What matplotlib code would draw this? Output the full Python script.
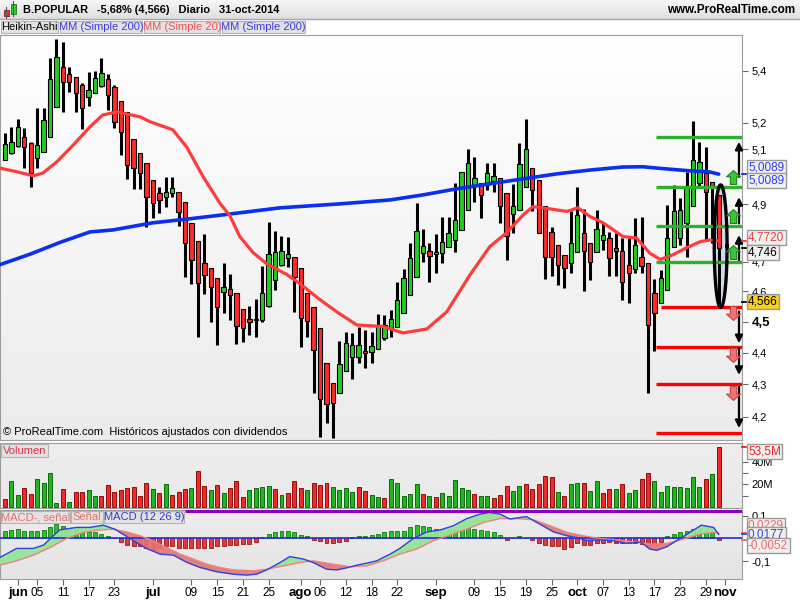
import numpy as np
import pandas as pd
import matplotlib
matplotlib.use("Agg")
import matplotlib.pyplot as plt
from matplotlib.path import Path
from matplotlib.patches import Rectangle
from matplotlib.colors import LinearSegmentedColormap
from matplotlib.ticker import FixedLocator, FixedFormatter, NullLocator, NullFormatter
from matplotlib.transforms import blended_transform_factory

plt.rcParams['font.family'] = ['Liberation Sans', 'DejaVu Sans']

# =========================
# DATA
# =========================
dates = pd.bdate_range("2014-05-29", "2014-10-31")   # 112 sessions

ha_open = [5.061, 5.087, 5.113, 5.146, 5.124, 5.068, 5.091, 5.146, 5.259, 5.414,
           5.387, 5.375, 5.344, 5.298, 5.314, 5.340, 5.368, 5.337, 5.283, 5.240,
           5.139, 5.087, 5.050, 4.988, 4.941, 4.927, 4.941, 4.945, 4.909, 4.835,
           4.772, 4.696, 4.679, 4.645, 4.598, 4.608, 4.595, 4.542, 4.509, 4.504,
           4.506, 4.552, 4.639, 4.689, 4.713, 4.716, 4.679, 4.595, 4.549, 4.480,
           4.367, 4.303, 4.273, 4.342, 4.386, 4.386, 4.404, 4.402, 4.411, 4.447,
           4.479, 4.484, 4.528, 4.588, 4.648, 4.729, 4.738, 4.727, 4.729, 4.750,
           4.775, 4.810, 4.881, 4.966, 4.978, 4.970, 4.984, 4.994, 4.942, 4.866,
           4.881, 4.962, 5.030, 4.988, 4.893, 4.804, 4.758, 4.724, 4.697, 4.735,
           4.798, 4.766, 4.735, 4.775, 4.781, 4.747, 4.738, 4.689, 4.674, 4.716,
           4.697, 4.596, 4.561, 4.605, 4.752, 4.782, 4.833, 4.893, 4.976, 5.012,
           4.982, 4.934]
ha_close = [5.120, 5.128, 5.184, 5.109, 5.013, 5.116, 5.210, 5.368, 5.455, 5.356,
            5.356, 5.314, 5.255, 5.325, 5.371, 5.391, 5.306, 5.203, 5.165, 5.043,
            5.031, 5.013, 4.927, 4.906, 4.916, 4.945, 4.959, 4.874, 4.764, 4.706,
            4.628, 4.655, 4.615, 4.549, 4.615, 4.588, 4.486, 4.480, 4.499, 4.509,
            4.595, 4.727, 4.734, 4.737, 4.727, 4.649, 4.513, 4.503, 4.409, 4.254,
            4.239, 4.242, 4.364, 4.431, 4.425, 4.425, 4.398, 4.422, 4.486, 4.489,
            4.509, 4.572, 4.645, 4.712, 4.808, 4.754, 4.720, 4.731, 4.769, 4.798,
            4.845, 5.018, 5.049, 4.994, 4.934, 5.012, 5.002, 4.893, 4.789, 4.893,
            5.045, 5.100, 4.950, 4.800, 4.718, 4.716, 4.689, 4.678, 4.766, 4.863,
            4.738, 4.700, 4.812, 4.792, 4.712, 4.738, 4.633, 4.661, 4.758, 4.684,
            4.489, 4.529, 4.645, 4.781, 4.875, 4.881, 4.964, 5.061, 5.055, 4.946,
            4.964, 4.746]
ha_high = [5.162, 5.184, 5.215, 5.180, 5.128, 5.255, 5.255, 5.450, 5.526, 5.514,
           5.414, 5.375, 5.352, 5.395, 5.399, 5.450, 5.387, 5.344, 5.283, 5.240,
           5.139, 5.087, 5.050, 4.988, 4.963, 4.999, 4.999, 4.945, 4.909, 4.835,
           4.772, 4.796, 4.679, 4.645, 4.696, 4.659, 4.595, 4.542, 4.552, 4.575,
           4.686, 4.838, 4.806, 4.789, 4.785, 4.716, 4.679, 4.595, 4.549, 4.480,
           4.367, 4.303, 4.438, 4.467, 4.464, 4.483, 4.473, 4.467, 4.526, 4.522,
           4.539, 4.633, 4.674, 4.766, 4.905, 4.812, 4.763, 4.796, 4.855, 4.855,
           4.976, 5.018, 5.100, 5.071, 4.978, 5.049, 5.049, 4.994, 4.942, 4.974,
           5.123, 5.213, 5.030, 4.988, 4.893, 4.819, 4.758, 4.724, 4.875, 4.962,
           4.883, 4.766, 4.881, 4.833, 4.804, 4.798, 4.781, 4.781, 4.851, 4.855,
           4.697, 4.641, 4.672, 4.898, 4.970, 4.923, 5.018, 5.207, 5.129, 5.110,
           4.982, 4.934]
ha_low = [5.061, 5.083, 5.109, 5.031, 4.963, 5.031, 5.091, 5.146, 5.259, 5.240,
          5.318, 5.240, 5.177, 5.263, 5.314, 5.337, 5.248, 5.180, 5.080, 4.992,
          4.956, 4.956, 4.820, 4.852, 4.870, 4.892, 4.927, 4.824, 4.649, 4.625,
          4.451, 4.592, 4.499, 4.425, 4.529, 4.506, 4.428, 4.435, 4.457, 4.451,
          4.499, 4.549, 4.605, 4.686, 4.682, 4.533, 4.419, 4.451, 4.273, 4.138,
          4.181, 4.135, 4.273, 4.342, 4.316, 4.367, 4.352, 4.368, 4.411, 4.441,
          4.451, 4.484, 4.528, 4.588, 4.648, 4.700, 4.633, 4.661, 4.695, 4.750,
          4.735, 4.810, 4.881, 4.907, 4.851, 4.952, 4.946, 4.835, 4.706, 4.798,
          4.881, 4.962, 4.875, 4.800, 4.641, 4.650, 4.622, 4.611, 4.663, 4.735,
          4.600, 4.639, 4.735, 4.741, 4.650, 4.650, 4.572, 4.561, 4.661, 4.661,
          4.273, 4.404, 4.561, 4.605, 4.752, 4.758, 4.717, 4.893, 4.964, 4.775,
          4.763, 4.549]
last_close = 4.566

# moving averages (index, value)
ma20_idx = [-0.8, 1.8, 4.4, 5.9, 8.1, 10.6, 13.2, 15.2, 17.4, 21.0, 22.6, 26.1, 28.3, 30.8,
            33.4, 35.0, 36.5, 38.6, 40.7, 43.8, 45.9, 49.0, 51.6, 54.7, 58.8, 61.9, 65.6,
            68.7, 72.3, 75.4, 78.0, 80.6, 82.1, 84.8, 87.4, 89.1, 91.0, 93.0, 96.1, 98.2,
            100.3, 101.9, 103.9, 106.0, 108.1, 109.6, 111.0]
ma20_val = [5.031, 5.018, 5.003, 5.013, 5.055, 5.116, 5.184, 5.229, 5.241, 5.222, 5.203,
            5.173, 5.107, 5.000, 4.905, 4.859, 4.787, 4.731, 4.693, 4.657, 4.625, 4.572,
            4.532, 4.489, 4.484, 4.463, 4.476, 4.532, 4.655, 4.752, 4.800, 4.863, 4.892,
            4.884, 4.875, 4.888, 4.857, 4.835, 4.787, 4.782, 4.729, 4.708, 4.724, 4.748,
            4.769, 4.775, 4.772]
ma200_idx = [-0.8, 3.9, 8.6, 13.2, 16.8, 23.0, 28.3, 35.0, 42.8, 52.1, 59.9, 65.0, 70.3,
             75.4, 80.6, 85.8, 91.0, 96.1, 99.2, 101.9, 106.0, 109.6, 111.0]
ma200_val = [4.690, 4.726, 4.767, 4.803, 4.810, 4.835, 4.848, 4.866, 4.888, 4.902, 4.916,
             4.934, 4.956, 4.974, 4.992, 5.010, 5.024, 5.035, 5.036, 5.030, 5.022, 5.017,
             5.009]
ma20_last = 4.772
ma200_last = 5.0089

# drawn objects: levels, arrows, ellipse
green_levels = [5.147, 4.964, 4.825, 4.700]
red_levels = [4.549, 4.419, 4.301, 4.151]
level_start = [101.2, 101.2, 101.2, 101.2]
red_start = [102.1, 101.2, 101.2, 101.2]
up_moves = [(4.999, 5.128), (4.833, 4.926), (4.706, 4.792)]
down_moves = [(4.533, 4.430), (4.413, 4.329), (4.292, 4.165)]
green_marks = [4.999, 4.859, 4.735]
red_marks = [4.529, 4.393, 4.273]
ellipse_idx, ellipse_top, ellipse_bottom = 111.3, 4.97, 4.546

# volume in millions, 1 = green bar
volume_m = [7.1, 23.3, 10.9, 16.8, 11.5, 24.8, 21.2, 30.1, 3.5, 15.9,
            4.7, 13.6, 13.6, 15.0, 9.7, 9.7, 19.8, 13.6, 15.0, 16.8,
            18.0, 9.7, 21.2, 15.9, 12.7, 20.4, 10.9, 13.6, 15.9, 16.8,
            32.2, 18.9, 15.0, 19.8, 12.4, 16.8, 23.3, 9.1, 15.0, 16.8,
            18.0, 18.9, 15.9, 10.9, 12.7, 23.3, 16.8, 15.0, 20.9, 19.8,
            21.2, 18.0, 15.0, 16.8, 13.6, 18.0, 14.5, 10.9, 9.1, 8.0,
            24.8, 20.9, 9.7, 11.5, 20.4, 11.5, 9.7, 8.6, 12.4, 9.7,
            23.9, 16.8, 15.0, 11.5, 9.7, 9.7, 8.0, 10.9, 18.6, 14.2,
            18.6, 20.4, 15.9, 20.4, 27.7, 26.5, 13.3, 9.7, 20.4, 21.2,
            21.2, 14.2, 23.0, 12.4, 15.9, 15.9, 20.4, 12.4, 15.0, 24.8,
            30.1, 23.0, 13.3, 18.6, 17.7, 17.7, 16.8, 26.5, 17.7, 24.8,
            29.2, 53.5]
volume_up = [0, 1, 1, 0, 0, 1, 1, 1, 1, 0,
             1, 0, 0, 1, 1, 0, 0, 0, 0, 0,
             0, 0, 0, 1, 0, 1, 0, 0, 0, 1,
             0, 0, 1, 0, 1, 0, 0, 0, 1, 1,
             1, 1, 0, 1, 0, 0, 0, 1, 0, 0,
             0, 1, 1, 1, 1, 0, 0, 1, 1, 0,
             1, 1, 1, 1, 1, 0, 1, 0, 1, 1,
             1, 1, 1, 0, 1, 1, 0, 0, 0, 1,
             1, 0, 0, 0, 0, 0, 1, 0, 1, 1,
             0, 1, 1, 0, 0, 1, 0, 1, 1, 0,
             0, 1, 1, 1, 1, 1, 1, 1, 1, 0,
             1, 0]

# MACD (12 26 9)
macd_hist = [0.034, 0.038, 0.044, 0.034, 0.031, 0.034, 0.038, 0.049, 0.062, 0.056,
             0.046, 0.041, 0.031, 0.028, 0.027, 0.019, 0.010, 0.003, -0.015, -0.028,
             -0.035, -0.035, -0.044, -0.050, -0.043, -0.035, -0.032, -0.040, -0.044, -0.044,
             -0.044, -0.041, -0.041, -0.032, -0.032, -0.027, -0.027, -0.024, -0.024, -0.015,
             0.007, 0.018, 0.027, 0.031, 0.034, 0.027, 0.016, 0.012, -0.006, -0.013,
             -0.022, -0.019, -0.015, -0.010, 0.006, 0.009, 0.009, 0.016, 0.022, 0.028,
             0.034, 0.034, 0.034, 0.052, 0.059, 0.056, 0.053, 0.044, 0.041, 0.038,
             0.038, 0.044, 0.046, 0.041, 0.037, 0.034, 0.027, 0.015, -0.006, 0.001,
             0.009, 0.004, -0.006, -0.018, -0.029, -0.032, -0.035, -0.047, -0.037, -0.022,
             -0.029, -0.029, -0.018, -0.018, -0.015, -0.018, -0.021, -0.021, -0.018, -0.025,
             -0.032, -0.025, -0.015, 0.012, 0.019, 0.027, 0.034, 0.041, 0.044, 0.031,
             0.027, -0.0052]
macd_idx = [-0.8, 1.8, 4.4, 6.0, 7.5, 8.5, 11.1, 13.2, 15.3, 17.1, 20.0, 22.0, 24.1, 26.2,
            28.3, 30.3, 32.9, 35.5, 37.6, 39.1, 40.7, 42.8, 44.3, 46.4, 47.9, 50.0, 51.6,
            53.4, 54.7, 56.3, 57.8, 59.9, 61.4, 63.5, 65.6, 67.7, 69.7, 71.8, 73.9, 75.4,
            77.0, 78.5, 80.1, 81.1, 83.2, 85.3, 87.4, 88.9, 90.5, 92.5, 94.6, 96.7, 98.8,
            100.3, 101.4, 102.9, 105.0, 106.5, 108.3, 110.2, 111.0]
macd_val = [-0.084, -0.044, -0.044, -0.029, 0.012, 0.038, 0.049, 0.049, 0.059, 0.041,
            -0.010, -0.044, -0.069, -0.074, -0.106, -0.128, -0.147, -0.158, -0.162, -0.158,
            -0.139, -0.106, -0.080, -0.091, -0.106, -0.136, -0.139, -0.128, -0.118, -0.109,
            -0.099, -0.069, -0.044, 0.000, 0.029, 0.038, 0.056, 0.088, 0.108, 0.115,
            0.108, 0.086, 0.093, 0.097, 0.063, 0.029, 0.012, 0.004, -0.010, -0.006,
            -0.010, -0.022, -0.015, -0.047, -0.052, -0.037, 0.000, 0.027, 0.059, 0.049,
            0.0177]
signal_idx = [-0.8, 1.8, 4.4, 7.0, 9.6, 12.2, 14.8, 16.8, 18.9, 21.0, 23.0, 25.1, 27.2,
              29.3, 31.4, 33.4, 35.5, 38.6, 40.7, 43.3, 45.9, 47.9, 51.1, 53.7, 56.3, 58.8,
              61.4, 64.0, 66.6, 69.2, 71.8, 74.4, 77.0, 79.6, 82.2, 84.8, 87.4, 89.9, 92.5,
              95.1, 97.7, 100.3, 102.9, 105.5, 108.0, 110.2, 111.0]
signal_val = [-0.118, -0.099, -0.074, -0.040, 0.000, 0.027, 0.038, 0.041, 0.029, 0.012,
              -0.010, -0.040, -0.069, -0.091, -0.114, -0.128, -0.139, -0.143, -0.136, -0.121,
              -0.106, -0.099, -0.114, -0.125, -0.121, -0.099, -0.069, -0.047, -0.010, 0.015,
              0.041, 0.071, 0.088, 0.088, 0.083, 0.056, 0.027, 0.012, 0.000, -0.006,
              -0.015, -0.025, -0.022, -0.003, 0.019, 0.027, 0.0229]
macd_top_level = 0.123

# axis ticks
price_ticks = [4.2, 4.3, 4.4, 4.5, 4.6, 4.7, 4.9, 5.1, 5.2, 5.4]
tick_dates = ['2014-06-02', '2014-06-05', '2014-06-11', '2014-06-17', '2014-06-23',
              '2014-07-01', '2014-07-09', '2014-07-15', '2014-07-21', '2014-07-25',
              '2014-08-01', '2014-08-06', '2014-08-12', '2014-08-18', '2014-08-22',
              '2014-09-01', '2014-09-09', '2014-09-15', '2014-09-19', '2014-09-25',
              '2014-10-01', '2014-10-07', '2014-10-13', '2014-10-17', '2014-10-23',
              '2014-10-29', '2014-11-03']
tick_labels = ['jun', '05', '11', '17', '23', 'jul', '09', '15', '21', '25', 'ago', '06',
               '12', '18', '22', 'sep', '09', '15', '19', '25', 'oct', '07', '13', '17',
               '23', '29', 'nov']


def comma(v, nd):
    return f"{v:.{nd}f}".replace(".", ",")


# =========================
# FIGURE LAYOUT (pixels)
# =========================
W, H = 800, 600
fig = plt.figure(figsize=(8, 6), dpi=100, facecolor='white')


def rect(x0, y0, x1, y1):
    return [x0 / W, 1 - y1 / H, (x1 - x0) / W, (y1 - y0) / H]


def gradient_bg(r, top, bottom):
    bg = fig.add_axes(r, zorder=0)
    g = np.linspace(0, 1, 256).reshape(-1, 1)
    bg.imshow(g, aspect='auto', cmap=LinearSegmentedColormap.from_list('g', [top, bottom]),
              extent=[0, 1, 0, 1], origin='upper')
    bg.axis('off')


MAIN = rect(0, 35, 742, 440)
VOL = rect(0, 443, 742, 508)
MACD = rect(0, 510, 742, 579)
gradient_bg(MAIN, '#ffffff', '#ebebeb')
gradient_bg(VOL, '#ededed', '#e9e9e9')
gradient_bg(MACD, '#ececec', '#e4e4e4')

ax = fig.add_axes(MAIN, zorder=1)
axv = fig.add_axes(VOL, zorder=1, sharex=ax)
axm = fig.add_axes(MACD, zorder=1, sharex=ax)
idx = np.arange(len(dates))
xlim = (-0.78, 114.62)

for a in (ax, axv, axm):
    a.set_facecolor('none')
    for s in a.spines.values():
        s.set_color('#9c9c9c')
    a.yaxis.tick_right()
    a.tick_params(axis='y', direction='out', length=4, color='#666666',
                  labelsize=8, pad=3)

# =========================
# 1. Heikin-Ashi price panel
# =========================
o = np.array(ha_open)
c = np.array(ha_close)
up = c >= o
ax.vlines(idx, ha_low, ha_high, color='black', lw=2.2, zorder=2)
ax.bar(idx, np.maximum(np.abs(c - o), 0.005), bottom=np.minimum(o, c), width=0.68,
       color=np.where(up, '#22cc22', '#ff2a2a'), edgecolor='black', linewidth=0.8, zorder=3)

ax.plot(ma200_idx, ma200_val, color='#0a2ff0', lw=2.6, zorder=4, solid_capstyle='round')
ax.plot(ma20_idx, ma20_val, color='#ff3b3b', lw=2.3, zorder=4, solid_capstyle='round')

for lv, st in zip(green_levels, level_start):
    ax.plot([st, xlim[1]], [lv, lv], color='#2eb02e', lw=2.4, zorder=5, solid_capstyle='butt')
for lv, st in zip(red_levels, red_start):
    ax.plot([st, xlim[1]], [lv, lv], color='#ff0000', lw=2.4, zorder=5, solid_capstyle='butt')

arrow_x = 114.15
for a0, a1 in up_moves + down_moves:
    ax.annotate('', xy=(arrow_x, a1), xytext=(arrow_x, a0),
                arrowprops=dict(arrowstyle='-|>', color='black', lw=1.6,
                                mutation_scale=11, shrinkA=0, shrinkB=0), zorder=6)

up_path = Path([(0, 1), (-1, 0.1), (-0.45, 0.1), (-0.45, -1), (0.45, -1), (0.45, 0.1),
                (1, 0.1), (0, 1)])
down_path = Path([(x, -y) for x, y in up_path.vertices])
ax.plot([113.2] * len(green_marks), green_marks, ls='none', marker=up_path, ms=10,
        mfc='#3cc23c', mec='#1d7f1d', mew=0.8, zorder=6)
ax.plot([113.2] * len(red_marks), red_marks, ls='none', marker=down_path, ms=10,
        mfc='#f07272', mec='#c04444', mew=0.8, zorder=6)

# ellipse around the last session (straight ellipse on the log scale)
t = np.linspace(0, 2 * np.pi, 200)
lm = (np.log(ellipse_top) + np.log(ellipse_bottom)) / 2
lr = (np.log(ellipse_top) - np.log(ellipse_bottom)) / 2
ex = ellipse_idx + 1.0 * np.cos(t)
ey = np.exp(lm + lr * np.sin(t))
ax.fill(ex, ey, color='#cddcf2', zorder=1.5, lw=0)
ax.plot(ex, ey, color='black', lw=2.4, zorder=5)

ax.set_yscale('log')
ax.set_xlim(*xlim)
ax.set_ylim(4.129, 5.542)
ax.yaxis.set_major_locator(FixedLocator(price_ticks))
ax.yaxis.set_major_formatter(FixedFormatter([comma(v, 1) for v in price_ticks]))
ax.yaxis.set_minor_locator(NullLocator())
ax.yaxis.set_minor_formatter(NullFormatter())
for lbl in ax.get_yticklabels():
    if lbl.get_text() == '4,5':
        lbl.set_fontweight('bold')
        lbl.set_fontsize(9.5)
ax.tick_params(axis='x', which='both', bottom=False, labelbottom=False)


def value_box(a, v, text, color, dy=0, fc='#f0f0f0', tick='#0000ff'):
    tr = blended_transform_factory(a.transAxes, a.transData)
    a.plot([1.0, 1.006], [v, v], color=tick, lw=1.3, transform=tr, clip_on=False, zorder=7)
    a.annotate(text, xy=(1, v), xycoords=('axes fraction', 'data'), xytext=(6, dy),
               textcoords='offset pixels', ha='left', va='center', fontsize=8.5,
               color=color, annotation_clip=False, zorder=8,
               bbox=dict(boxstyle='square,pad=0.12', fc=fc, ec='#9a9a9a', lw=1))


value_box(ax, ma200_last, comma(ma200_last, 4), '#2a3cf0', 7, tick='#2a3cf0')
value_box(ax, ma200_last, comma(ma200_last, 4), '#2a3cf0', -6, tick='#2a3cf0')
value_box(ax, ma20_last, comma(ma20_last, 4), '#f03c3c', 3, tick='#f03c3c')
value_box(ax, ha_close[-1], comma(ha_close[-1], 3), 'black', -4, tick='black')
value_box(ax, last_close, comma(last_close, 3), 'black', 0, fc='#f7cf1e', tick='black')

# =========================
# 2. Volume panel
# =========================
vup = np.array(volume_up) == 1
axv.bar(idx, volume_m, width=0.62, color=np.where(vup, '#22b522', '#ee2a2a'),
        edgecolor=np.where(vup, '#0c6a0c', '#8f0e0e'), linewidth=0.7, zorder=2)
axv.set_ylim(-0.885, 56.64)
axv.yaxis.set_major_locator(FixedLocator([10, 20, 30, 40]))
axv.yaxis.set_major_formatter(FixedFormatter(['', '20M', '', '40M']))
axv.tick_params(axis='x', which='both', bottom=False, labelbottom=False)
value_box(axv, volume_m[-1], comma(volume_m[-1], 1) + 'M', '#ee2222', -5, fc='#f0f0f0',
          tick='#ee2222')

# =========================
# 3. MACD panel
# =========================
h = np.array(macd_hist)
axm.bar(idx, h, width=0.62, color=np.where(h >= 0, '#2fbf2f', '#e03a3a'),
        edgecolor=np.where(h >= 0, '#117a11', '#9a1515'), linewidth=0.6, zorder=2)
grid = np.linspace(macd_idx[0], macd_idx[-1], 600)
m_line = np.interp(grid, macd_idx, macd_val)
s_line = np.interp(grid, signal_idx, signal_val)
axm.fill_between(grid, m_line, s_line, where=m_line >= s_line, interpolate=True,
                 color='#96e496', alpha=0.95, lw=0, zorder=3)
axm.fill_between(grid, m_line, s_line, where=m_line < s_line, interpolate=True,
                 color='#e27474', alpha=0.9, lw=0, zorder=3)
axm.axhline(0, color='#2a2ad6', lw=1.2, zorder=4)
axm.plot(signal_idx, signal_val, color='#f08080', lw=1.0, zorder=5)
axm.plot(macd_idx, macd_val, color='#3040e0', lw=1.0, zorder=5)
axm.plot([28.0, xlim[1]], [macd_top_level, macd_top_level], color='#8a00c0', lw=2.2,
         zorder=5, solid_capstyle='butt')
axm.set_ylim(-0.1792, 0.1261)
axm.yaxis.set_major_locator(FixedLocator([0.1, -0.1]))
axm.yaxis.set_major_formatter(FixedFormatter(['0,1', '-0,1']))
value_box(axm, signal_val[-1], comma(signal_val[-1], 4), '#f06868', 8, tick='#f06868')
value_box(axm, macd_val[-1], comma(macd_val[-1], 4), '#3040e0', 0, tick='#3040e0')
value_box(axm, macd_hist[-1], comma(macd_hist[-1], 4), '#f06868', -6, tick='#f06868')

tick_pos = np.searchsorted(dates, pd.to_datetime(tick_dates))
axm.set_xticks(tick_pos)
axm.set_xticklabels(tick_labels)
axm.tick_params(axis='x', direction='out', length=4, color='#666666', labelsize=8.5, pad=2)
for lbl in axm.get_xticklabels():
    if not lbl.get_text().isdigit():
        lbl.set_fontweight('bold')
        lbl.set_fontsize(9.5)
axm.set_xlim(*xlim)

# =========================
# 4. Header, legends, captions
# =========================
ov = fig.add_axes([0, 0, 1, 1], zorder=10)
g = np.linspace(0, 1, 64).reshape(-1, 1)
ov.imshow(g, aspect='auto', extent=[0, W, 19, 0], origin='upper',
          cmap=LinearSegmentedColormap.from_list('h', ['#f6f6f6', '#dedede']))
ov.set_xlim(0, W)
ov.set_ylim(H, 0)
ov.axis('off')
ov.plot([0, W], [19, 19], color='#a8a8a8', lw=1)

# small candle icon
ov.plot([6, 6], [7, 18], color='#555555', lw=0.8)
ov.add_patch(Rectangle((3.5, 10), 5, 6, fc='#ee3030', ec='#702020', lw=0.6))
ov.plot([13, 13], [1, 16], color='#555555', lw=0.8)
ov.add_patch(Rectangle((10.5, 3.5), 5, 10, fc='#30d030', ec='#207020', lw=0.6))

ov.text(23, 10, 'B.POPULAR   -5,68% (4,566)   Diario   31-oct-2014', fontsize=7.9,
        fontweight='bold', va='center', ha='left')
ov.text(795, 10, 'www.ProRealTime.com', fontsize=8.4, fontweight='bold', va='center',
        ha='right')


def tag(x0, x1, y0, y1, text, color):
    ov.add_patch(Rectangle((x0, y0), x1 - x0, y1 - y0, fc='#e2e2e2', ec='#b4b4b4', lw=0.8))
    ov.text((x0 + x1) / 2, (y0 + y1) / 2 + 0.5, text, color=color, fontsize=8,
            ha='center', va='center')


tag(1, 58, 20.5, 33, 'Heikin-Ashi', 'black')
tag(60, 142, 20.5, 33, 'MM (Simple 200)', '#3a3ae6')
tag(144, 220, 20.5, 33, 'MM (Simple 20)', '#f05050')
tag(222, 305, 20.5, 33, 'MM (Simple 200)', '#3a3ae6')
tag(1, 48, 444, 457, 'Volumen', '#e0304a')
tag(1, 70, 511, 523, 'MACD-, señal', '#e87070')
tag(71, 103, 511, 523, 'Señal', '#e87070')
tag(104, 184, 511, 523, 'MACD (12 26 9)', '#3838d0')

ov.text(3, 432, '© ProRealTime.com  Históricos ajustados con dividendos', fontsize=8,
        va='center', ha='left')

fig.savefig('out.png', dpi=100, facecolor='white')
